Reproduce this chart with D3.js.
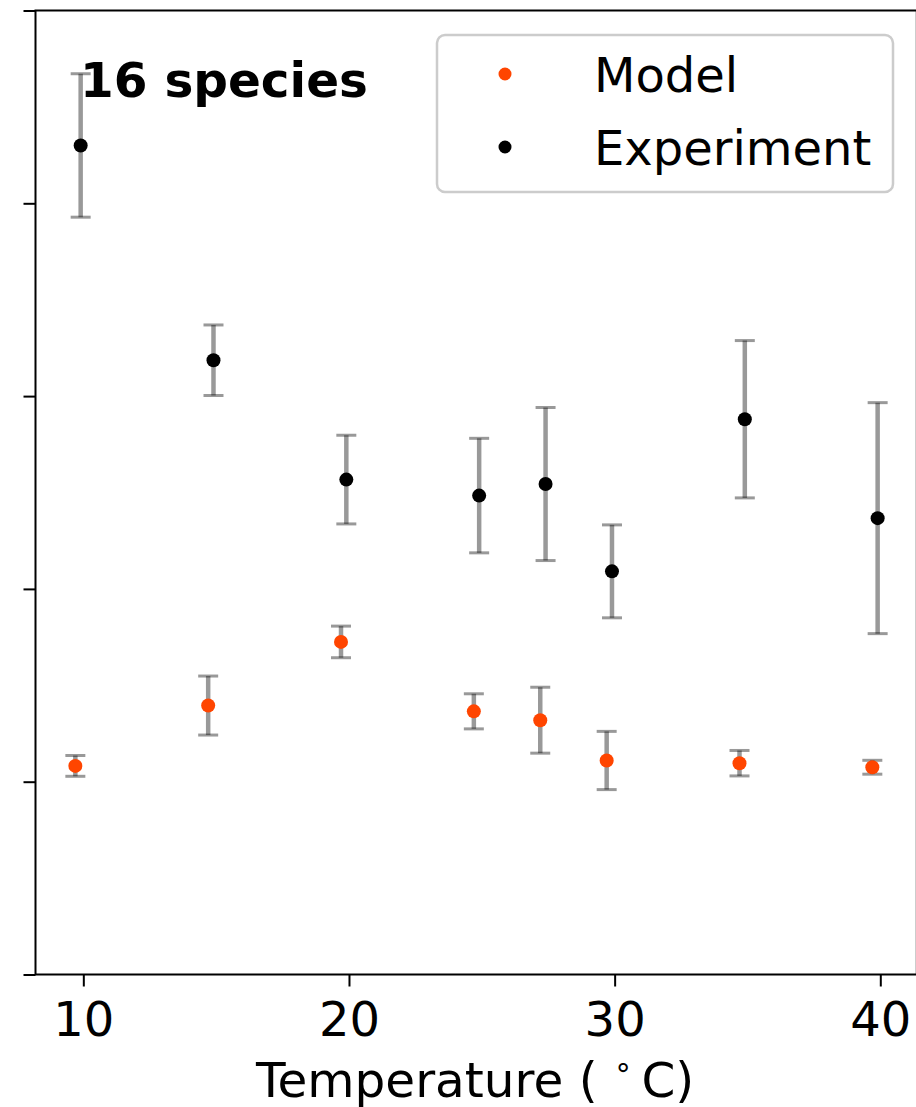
<!DOCTYPE html>
<html>
<head>
<meta charset="utf-8">
<script src="https://cdn.jsdelivr.net/npm/d3@7"></script>
<style>
  html, body { margin: 0; padding: 0; background: #fff; }
  svg { display: block; }
  text { font-family: "DejaVu Sans", sans-serif; }
</style>
</head>
<body>
<svg id="chart" width="916" height="1107"></svg>
<script>
// Growth temperatures (°C)
const temperatures = [10, 15, 20, 25, 27.5, 30, 35, 40];

// Model predictions with spread
const modelValues = [1.082, 1.395, 1.725, 1.365, 1.319, 1.110, 1.096, 1.075];
const modelErrors = [0.054, 0.153, 0.082, 0.091, 0.171, 0.151, 0.066, 0.036];

// Experimental measurements with spread
const experimentValues = [4.300, 3.186, 2.567, 2.484, 2.544, 2.091, 2.880, 2.367];
const experimentErrors = [0.372, 0.183, 0.230, 0.297, 0.397, 0.241, 0.408, 0.599];

const xTicks = [10, 20, 30, 40];
const yTicks = [0, 1, 2, 3, 4, 5];

const seriesNames = ["Model", "Experiment"];
const annotation = "16 species";

// Layout
const plotLeft = 35.5, plotRight = 916.8, plotTop = 10.5, plotBottom = 974.5;
const colors = { Model: "#ff4500", Experiment: "#000000" };
const dodge = { Model: -0.3, Experiment: -0.1 };

const svg = d3.select("#chart");

const x = d3.scaleLinear().domain([8.2, 41.4]).range([plotLeft, plotLeft + 33.2 * 26.566]);
const y = d3.scaleLinear().domain([0, 5]).range([plotBottom, plotTop]);

// Axes
const xAxis = d3.axisBottom(x).tickValues(xTicks).tickSize(12).tickPadding(12)
  .tickFormat(d3.format("d"));
const yAxis = d3.axisLeft(y).tickValues(yTicks).tickSize(12).tickFormat("");

const gx = svg.append("g").attr("transform", `translate(0,${plotBottom})`).call(xAxis);
gx.select(".domain").remove();
gx.selectAll(".tick line").attr("stroke", "#000").attr("stroke-width", 2);
gx.selectAll(".tick text").attr("fill", "#000").attr("font-size", 48)
  .attr("font-family", "DejaVu Sans").attr("dy", "0.71em").attr("y", 27);

const gy = svg.append("g").attr("transform", `translate(${plotLeft},0)`).call(yAxis);
gy.select(".domain").remove();
gy.selectAll(".tick line").attr("stroke", "#000").attr("stroke-width", 2);

// Frame
svg.append("rect")
  .attr("x", plotLeft).attr("y", plotTop)
  .attr("width", plotRight - plotLeft).attr("height", plotBottom - plotTop)
  .attr("fill", "none").attr("stroke", "#000").attr("stroke-width", 2);

// Axis label
const xl = svg.append("text")
  .attr("x", (plotLeft + plotRight) / 2 - 1).attr("y", 1097)
  .attr("text-anchor", "middle").attr("font-size", 48.5).attr("fill", "#000");
xl.append("tspan").text("Temperature (");
xl.append("tspan").attr("font-size", 30).attr("dy", -20).attr("dx", 16).text("∘");
xl.append("tspan").attr("dy", 20).attr("dx", 9).text("C)");

// Error bars + points
function drawSeries(name, values, errors) {
  const g = svg.append("g").attr("class", "series-" + name);
  const rows = temperatures.map((t, i) => ({ t: t + dodge[name], v: values[i], e: errors[i] }));
  const bars = g.selectAll("g.err").data(rows).join("g").attr("class", "err");
  bars.append("line")
    .attr("x1", d => x(d.t)).attr("x2", d => x(d.t))
    .attr("y1", d => y(d.v + d.e)).attr("y2", d => y(d.v - d.e))
    .attr("stroke", "#000").attr("stroke-opacity", 0.4).attr("stroke-width", 4.5);
  ["hi", "lo"].forEach(k => {
    bars.append("line")
      .attr("x1", d => x(d.t) - 10).attr("x2", d => x(d.t) + 10)
      .attr("y1", d => y(k === "hi" ? d.v + d.e : d.v - d.e))
      .attr("y2", d => y(k === "hi" ? d.v + d.e : d.v - d.e))
      .attr("stroke", "#000").attr("stroke-opacity", 0.4).attr("stroke-width", 3);
  });
  g.selectAll("circle").data(rows).join("circle")
    .attr("cx", d => x(d.t)).attr("cy", d => y(d.v)).attr("r", 7)
    .attr("fill", colors[name]);
}
drawSeries("Model", modelValues, modelErrors);
drawSeries("Experiment", experimentValues, experimentErrors);

// Annotation
svg.append("text")
  .attr("x", 80).attr("y", 97)
  .attr("font-size", 48.5).attr("font-weight", "bold").attr("fill", "#000")
  .text(annotation);

// Legend
const legend = svg.append("g");
legend.append("rect")
  .attr("x", 437).attr("y", 35).attr("width", 456).attr("height", 157)
  .attr("rx", 8).attr("ry", 8)
  .attr("fill", "#fff").attr("fill-opacity", 0.8)
  .attr("stroke", "#cccccc").attr("stroke-width", 2.5);
seriesNames.forEach((name, i) => {
  const cy = 74 + i * 73;
  legend.append("circle").attr("cx", 505).attr("cy", cy).attr("r", 6.5)
    .attr("fill", colors[name]);
  legend.append("text").attr("x", 594).attr("y", cy + 17.5)
    .attr("font-size", 48).attr("fill", "#000").text(name);
});
</script>
</body>
</html>
